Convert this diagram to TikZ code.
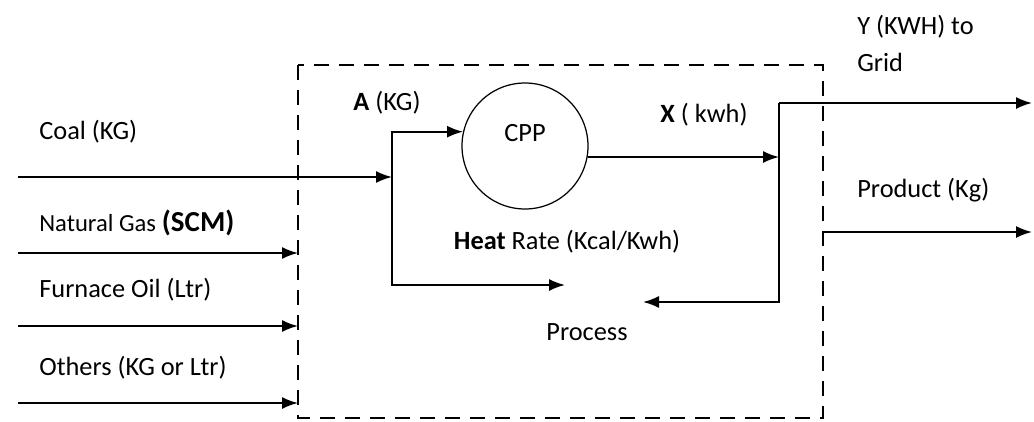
\documentclass[tikz,border=0pt]{standalone}
\usepackage{fontspec}
\setmainfont{Carlito}
\usetikzlibrary{arrows.meta}
\begin{document}
\begin{tikzpicture}[x=0.2mm, y=-0.2mm,
    flow/.style={-{Latex[length=3.2mm,width=2.4mm]}, line width=1pt},
    pipe/.style={line width=1pt},
    lbl/.style={font=\fontsize{15}{18}\selectfont, inner sep=0pt},
    boundary/.style={line width=0.9pt, dash pattern=on 3mm off 2mm},
]
\useasboundingbox (0,0) rectangle (1034,422);
% plant boundary
\draw[boundary] (298,65) rectangle (823,418);
% captive power plant
\node[circle, draw, line width=0.7pt, minimum size=25.2mm, inner sep=0pt] (cpp) at (525,146) {};
\node[lbl] (cpptext) at (525,133) {CPP};
% fuel inputs
\coordinate (coalin) at (18,177);
\coordinate (split) at (392,177);
\coordinate (procin) at (565,285);
\coordinate (gasin) at (18,253);
\coordinate (gasend) at (298,253);
\coordinate (oilin) at (18,326);
\coordinate (oilend) at (298,326);
\coordinate (othin) at (18,403);
\coordinate (othend) at (298,403);
\draw[flow] (coalin) -- (split);
\draw[flow] (gasin) -- (gasend);
\draw[flow] (oilin) -- (oilend);
\draw[flow] (othin) -- (othend);
\draw[flow] (split) |- (cpp.167);
\draw[flow] (split) |- (procin);
% power distribution
\coordinate (bus) at (779,157);
\coordinate (bustop) at (779,103);
\coordinate (busbot) at (779,302);
\coordinate (procout) at (643,302);
\coordinate (grid) at (1032,103);
\coordinate (prodin) at (823,232);
\coordinate (prodout) at (1032,232);
\draw[flow] (cpp.-10) -- (bus);
\draw[flow] (bustop) -- (grid);
\draw[flow] (bustop) -- (busbot) -- (procout);
\draw[flow] (prodin) -- (prodout);
% labels
\node[lbl, anchor=west] (coal) at (39,132) {Coal (KG)};
\node[lbl, anchor=west] (gas) at (39,223) {{\fontsize{14}{16}\selectfont Natural Gas} {\fontsize{16.5}{18}\selectfont\textbf{(SCM)}}};
\node[lbl, anchor=west] (oil) at (39,290) {Furnace Oil (Ltr)};
\node[lbl, anchor=west] (oth) at (39,368) {Others (KG or Ltr)};
\node[lbl, anchor=west] (akg) at (353,103) {\textbf{A} (KG)};
\node[lbl] (xkwh) at (704,115) {\textbf{X} ( kwh)};
\node[lbl, anchor=west] (ykwh) at (857,27) {Y (KWH) to};
\node[lbl, anchor=west] (gridtext) at (857,62) {Grid};
\node[lbl, anchor=west] (prod) at (857,190) {Product (Kg)};
\node[lbl] (heat) at (567,242) {\textbf{Heat} Rate (Kcal/Kwh)};
\node[lbl] (proc) at (587,332) {Process};
\end{tikzpicture}
\end{document}
